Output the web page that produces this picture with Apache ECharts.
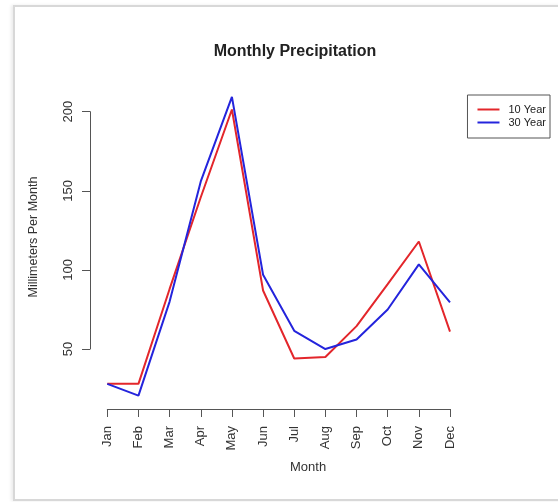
<!DOCTYPE html>
<html>
<head>
<meta charset="utf-8">
<script src="https://cdn.jsdelivr.net/npm/echarts@6/dist/echarts.min.js"></script>
<style>
  html, body { margin: 0; padding: 0; background: #fff; }
  #chart { width: 558px; height: 502px; }
  #frame { position: absolute; left: 13px; top: 5px; width: 600px; height: 496px;
           border: 2px solid #d8d8d8; border-right: none; box-sizing: border-box;
           box-shadow: -2px 0 3px rgba(0,0,0,0.08); pointer-events: none; }
</style>
</head>
<body>
<div id="chart"></div>
<div id="frame"></div>
<script>
const months = ['Jan','Feb','Mar','Apr','May','Jun','Jul','Aug','Sep','Oct','Nov','Dec'];
const tenYear = [28, 28, 88, 146, 201.5, 87, 44, 45, 64.5, 91, 118, 61];
const thirtyYear = [28, 20.5, 80, 156, 209.5, 97, 61.5, 50, 56, 75, 103.5, 79.5];
const yTicks = [50, 100, 150, 200];
const yRange = [12.9, 217.1];

const chart = echarts.init(document.getElementById('chart'));
const axisColor = '#555';
const textColor = '#333';
chart.setOption({
  animation: false,
  backgroundColor: '#fff',
  title: {
    text: 'Monthly Precipitation',
    left: 290, textAlign: 'center', top: 39,
    textStyle: { fontFamily: 'Liberation Sans', fontSize: 16, fontWeight: 'bold', color: '#222' }
  },
  legend: {
    orient: 'vertical', right: 8, top: 95,
    borderColor: '#555', borderWidth: 1,
    padding: [9, 4, 10, 10], itemGap: 2,
    itemWidth: 22, itemHeight: 2, icon: 'rect',
    textStyle: { fontFamily: 'Liberation Sans', fontSize: 11, color: '#222', padding: [0, 0, 0, 4] },
    data: ['10 Year', '30 Year']
  },
  grid: [
    { left: 107.3, right: 108, top: 84.8, bottom: 94.3 },
    { left: 90, width: 1, top: 111.7, height: 237.3 }
  ],
  xAxis: [
    {
      gridIndex: 0, type: 'category', data: months, boundaryGap: false, offset: 1.3,
      axisLine: { show: true, lineStyle: { color: axisColor, width: 1 } },
      axisTick: { show: true, length: 8, lineStyle: { color: axisColor } },
      axisLabel: { rotate: 90, margin: 17, color: textColor, fontFamily: 'Liberation Sans', fontSize: 13 },
      splitLine: { show: false }
    },
    { gridIndex: 1, type: 'value', show: false }
  ],
  yAxis: [
    { gridIndex: 0, type: 'value', min: yRange[0], max: yRange[1], show: false },
    {
      gridIndex: 1, type: 'value', min: yTicks[0], max: yTicks[yTicks.length - 1], interval: 50,
      axisLine: { show: true, lineStyle: { color: axisColor, width: 1 } },
      axisTick: { show: true, length: 8, lineStyle: { color: axisColor } },
      axisLabel: { rotate: 90, margin: 15, color: textColor, fontFamily: 'Liberation Sans', fontSize: 13 },
      splitLine: { show: false }
    }
  ],
  graphic: [
    { type: 'text', left: 290, top: 461, style: { text: 'Month', fontFamily: 'Liberation Sans', fontSize: 13, fill: textColor } },
    { type: 'text', x: 34, y: 237, rotation: Math.PI / 2,
      style: { text: 'Millimeters Per Month', fontFamily: 'Liberation Sans', fontSize: 12.5, fill: textColor,
               align: 'center', verticalAlign: 'middle' } }
  ],
  series: [
    { name: '10 Year', type: 'line', xAxisIndex: 0, yAxisIndex: 0, data: tenYear,
      showSymbol: false, lineStyle: { color: '#e3262b', width: 2 }, itemStyle: { color: '#e3262b' } },
    { name: '30 Year', type: 'line', xAxisIndex: 0, yAxisIndex: 0, data: thirtyYear,
      showSymbol: false, lineStyle: { color: '#2424dc', width: 2 }, itemStyle: { color: '#2424dc' } }
  ]
});
</script>
</body>
</html>
